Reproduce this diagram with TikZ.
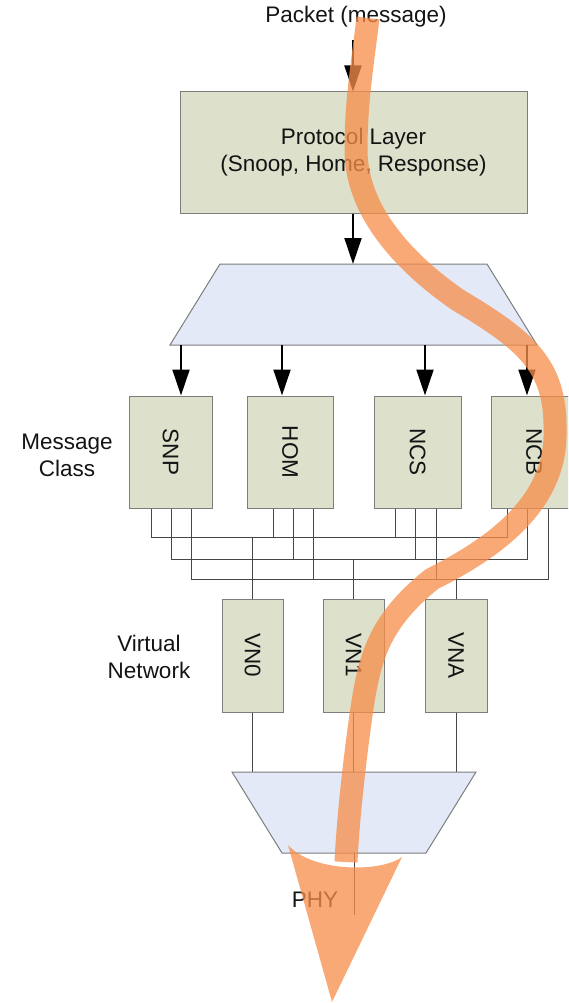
\documentclass[tikz,border=0pt]{standalone}
\usepackage{fontspec}
\setmainfont{Liberation Sans}
\usetikzlibrary{arrows.meta}
\definecolor{boxfill}{RGB}{221,224,203}
\definecolor{trapfill}{RGB}{227,233,246}
\definecolor{edgegray}{RGB}{125,125,125}
\definecolor{wiregray}{RGB}{70,70,70}
\definecolor{flow}{RGB}{246,142,74}
\definecolor{ink}{RGB}{20,20,20}
\begin{document}
\begin{tikzpicture}[x=1pt,y=-1pt,
  font=\fontsize{22.5}{27}\selectfont,
  box/.style={draw=edgegray, fill=boxfill, line width=1pt, inner sep=0pt},
  trap/.style={draw=edgegray, fill=trapfill, line width=1pt},
  wire/.style={draw=wiregray, line width=0.9pt},
  feed/.style={draw=black, line width=2pt, -{Triangle[width=17pt,length=26pt]}},
  lbl/.style={inner sep=0pt, text=ink, align=center},
  vlbl/.style={lbl, rotate=-90},
  flowline/.style={draw=flow, line width=23pt, line cap=butt},
]
\clip (0,0) rectangle (568,1003);

% Packet and protocol layer
\node[lbl] (packet) at (356,17) {Packet (message)};
\coordinate (pin) at (353,40);
\node[box, minimum width=347pt, minimum height=121pt] (proto) at (353.5,152.5) {};
\node[lbl] (protot) at (proto) {Protocol Layer\\(Snoop, Home, Response)};
\draw[feed] (pin) -- (proto.north -| pin);

% upper demux trapezoid
\draw[trap] (220,264) -- (487,264) -- (537,345) -- (170,345) -- cycle;
\coordinate (mux) at (353,264);
\draw[feed] (proto.south -| mux) -- (mux);

% message class boxes
\node[box, minimum width=83pt, minimum height=112pt] (snp) at (170.5,452) {};
\node[box, minimum width=86pt, minimum height=112pt] (hom) at (290,452) {};
\node[box, minimum width=87pt, minimum height=112pt] (ncs) at (417.5,452) {};
\node[box, minimum width=86pt, minimum height=112pt] (ncb) at (534,452) {};
\node[vlbl] (snpt) at (snp) {SNP};
\node[vlbl] (homt) at (hom) {HOM};
\node[vlbl] (ncst) at (ncs) {NCS};
\node[vlbl] (ncbt) at (ncb) {NCB};
\node[lbl] (mclbl) at (67,455) {Message\\Class};

\coordinate (d1) at (181,345);
\coordinate (d2) at (282,345);
\coordinate (d3) at (425,345);
\coordinate (d4) at (527,345);
\draw[feed] (d1) -- (d1 |- snp.north);
\draw[feed] (d2) -- (d2 |- hom.north);
\draw[feed] (d3) -- (d3 |- ncs.north);
\draw[feed] (d4) -- (d4 |- ncb.north);

% virtual network boxes
\node[box, minimum width=61pt, minimum height=113pt] (vn0) at (252.5,655.5) {};
\node[box, minimum width=61pt, minimum height=113pt] (vn1) at (353.5,655.5) {};
\node[box, minimum width=62pt, minimum height=113pt] (vna) at (456,655.5) {};
\node[vlbl] (vn0t) at (vn0) {VN0};
\node[vlbl] (vn1t) at (vn1) {VN1};
\node[vlbl] (vnat) at (vna) {VNA};
\node[lbl] (vnlbl) at (149,656.5) {Virtual\\Network};

% crossbar wiring
\foreach \b/\x in {snp/151, hom/273, ncs/395, ncb/507}
  \draw[wire] (\b.south -| \x,0) |- (vn0.north |- 0,537);
\foreach \b/\x in {snp/171, hom/293, ncs/415, ncb/527}
  \draw[wire] (\b.south -| \x,0) |- (vn1.north |- 0,559);
\foreach \b/\x in {snp/191, hom/313, ncs/436, ncb/548}
  \draw[wire] (\b.south -| \x,0) |- (vna.north |- 0,579);
\draw[wire] (vn0.north |- 0,537) -- (vn0.north);
\draw[wire] (vn1.north |- 0,559) -- (vn1.north);
\draw[wire] (vna.north |- 0,579) -- (vna.north);

% lower mux trapezoid
\draw[wire] (vn0.south) -- (vn0.south |- 0,772);
\draw[wire] (vn1.south) -- (vn1.south |- 0,772);
\draw[wire] (vna.south) -- (vna.south |- 0,772);
\draw[trap] (232,772) -- (476,772) -- (426,853) -- (282,853) -- cycle;
\coordinate (phyb) at (354,853);
\coordinate (phyend) at (354,915);
\draw[wire] (phyb) -- (phyend);
\node[lbl] (phy) at (315,900) {PHY};

% packet flow
\begin{scope}[transparency group, opacity=0.76]
\draw[flowline] (368,18) .. controls (363,60) and (356,100) .. (356,150)
  .. controls (356,210) and (403,262) .. (458,300)
  .. controls (525,340) and (556,365) .. (555,430)
  .. controls (557,500) and (500,545) .. (432,579)
  .. controls (377,623) and (369,660) .. (361,715)
  .. controls (354,765) and (348,820) .. (346,862);
\fill[flow] (288,845) -- (332,1002) -- (402,857) .. controls (380,873) and (312,872) .. (288,845) -- cycle;
\end{scope}
\end{tikzpicture}
\end{document}
